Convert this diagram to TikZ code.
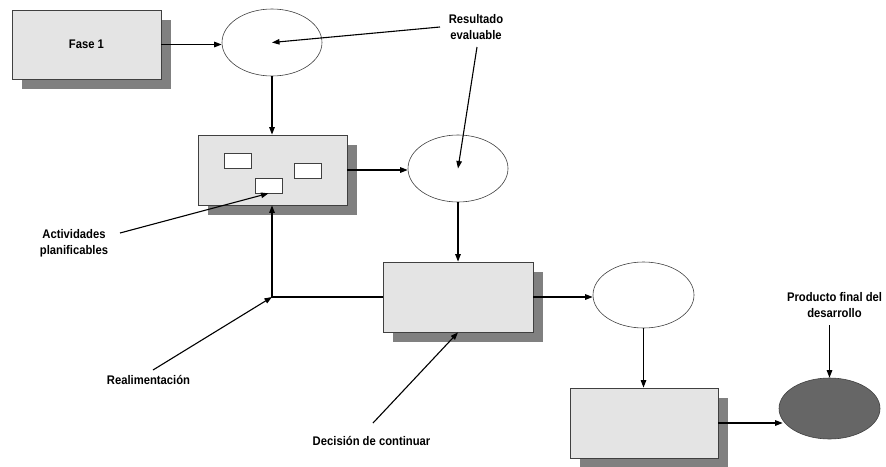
\documentclass[tikz,border=0pt]{standalone}
\usepackage{fontspec}
\setmainfont{Liberation Sans}[FakeStretch=0.9]
\usetikzlibrary{arrows.meta,shapes.geometric,shadows}
\definecolor{boxfill}{HTML}{E4E4E4}
\definecolor{shadowgray}{HTML}{808080}
\definecolor{linegray}{HTML}{404040}
\definecolor{darkfill}{HTML}{666666}
\tikzset{
  phasebox/.style={rectangle, draw=linegray, line width=0.8pt, fill=boxfill,
    inner sep=0pt,
    drop shadow={shadow xshift=10pt, shadow yshift=-10pt, fill=shadowgray, opacity=1}},
  smallbox/.style={rectangle, draw=linegray, line width=0.7pt, fill=white,
    minimum width=27pt, minimum height=15pt, inner sep=0pt},
  result/.style={ellipse, draw=linegray, line width=0.6pt, fill=white,
    minimum width=100pt, minimum height=67pt, inner sep=0pt},
  final/.style={ellipse, draw=linegray, line width=0.6pt, fill=darkfill,
    minimum width=101pt, minimum height=61pt, inner sep=0pt},
  lbl/.style={font=\fontsize{12.5}{16}\selectfont\bfseries, align=center, inner sep=0pt},
  conn/.style={line width=1.1pt, -{Triangle[length=7.5pt,width=5.5pt]}},
}
\begin{document}
\begin{tikzpicture}[x=1pt,y=-1pt]
\useasboundingbox (0,0) rectangle (886,466);
% boxes
\node[phasebox, minimum width=149pt, minimum height=69pt] (fase1) at (86.5,44.5) {\fontsize{12.5}{16}\selectfont\bfseries Fase 1};
\node[phasebox, minimum width=149pt, minimum height=70pt] (box2) at (272.5,170) {};
\node[phasebox, minimum width=150pt, minimum height=70pt] (box3) at (458,297) {};
\node[phasebox, minimum width=148pt, minimum height=70pt] (box4) at (644,423) {};
% small boxes inside box2
\node[smallbox] (r1) at (237.5,160.5) {};
\node[smallbox] (r2) at (307.5,170.5) {};
\node[smallbox] (r3) at (268.5,185.5) {};
% ellipses
\node[result] (e1) at (272,42.5) {};
\node[result] (e2) at (458,168.5) {};
\node[result, minimum width=101pt, minimum height=66pt] (e3) at (643.5,295) {};
\node[final] (e4) at (829.5,408.5) {};
% labels
\node[lbl] (res) at (476,27) {Resultado\\evaluable};
\node[lbl] (act) at (74,243) {Actividades\\planificables};
\node[lbl] (real) at (148.5,380) {Realimentación};
\node[lbl] (dec) at (371.5,441) {Decisión de continuar};
\node[lbl] (prod) at (834.5,305) {Producto final del\\desarrollo};
% label anchor coordinates
\coordinate (resA) at (440,27);
\coordinate (resB) at (477,47);
\coordinate (actA) at (120,233);
\coordinate (realA) at (153,370);
\coordinate (decA) at (373,423);
\coordinate (prodA) at (829.5,325);
\coordinate (fb) at (272,297);
% main flow
\draw[conn] (fase1.east) -- (fase1.east -| e1.west);
\draw[conn] (e1.south) -- (box2.north -| e1.south);
\draw[conn] (box2.east) -- (box2.east -| e2.west);
\draw[conn] (e2.south) -- (box3.north);
\draw[conn] (box3.east) -- (box3.east -| e3.west);
\draw[conn] (e3.south) -- (box4.north -| e3.south);
\draw[conn] (box4.east) -- ([xshift=4pt]box4.east -| e4.west);
% feedback
\draw[conn] (box3.west |- fb) -- (fb) -- (box2.south -| fb);
% label arrows
\draw[conn] (resA) -- (e1.center);
\draw[conn] (resB) -- (e2.center);
\draw[conn] (actA) -- (r3.south);
\draw[conn] (realA) -- (fb);
\draw[conn] (decA) -- (box3.south);
\draw[conn] (prodA) -- (e4.north);
\end{tikzpicture}
\end{document}
